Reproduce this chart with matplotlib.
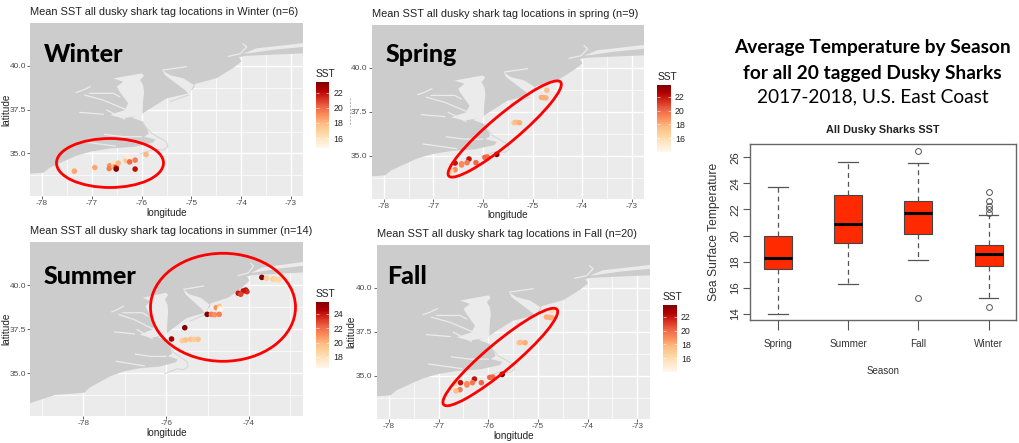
"""Seasonal dusky shark SST maps plus a boxplot of temperature by season."""

import matplotlib
matplotlib.use("Agg")
import matplotlib.pyplot as plt
from matplotlib.cm import ScalarMappable
from matplotlib.colors import Normalize
from matplotlib.patches import Ellipse

W, H = 1019, 443
LAND = "#CCCCCC"
SEA = "#EBEBEB"
RED = "#FF0000"
BOX_RED = "#FF2A00"
CMAP = "OrRd"
plt.rcParams["font.family"] = ["Liberation Sans", "DejaVu Sans"]

# coastline (lon, lat), south-west to north-east
coast_lon = [-79.4, -79.29, -78.68, -77.97, -77.85, -77.63, -77.33, -77.03, -76.63, -76.16,
             -75.89, -75.77, -75.72, -75.95, -75.85, -75.97, -76.2, -75.98, -75.77, -75.50, -75.06,
             -74.95, -74.93, -74.49, -74.16, -73.99, -74.05, -73.92, -73.35, -72.76, -72.0, -72.0, -80.0, -80.0]
coast_lat = [33.2, 33.3, 33.77, 33.90, 34.18, 34.47, 34.85, 35.10, 35.29, 35.38,
             35.55, 35.62, 35.80, 35.96, 36.15, 36.82, 37.05, 37.29, 37.67, 38.15, 38.44,
             38.75, 38.97, 39.31, 39.89, 40.27, 40.50, 40.58, 40.65, 40.72, 40.85, 43.0, 43.0, 33.2]

# bays cut out of the land
delaware_lon = [-75.58, -75.53, -75.37, -75.13, -75.05, -74.95, -75.16, -75.43]
delaware_lat = [39.75, 39.48, 39.14, 38.63, 38.38, 38.91, 39.29, 39.48]
chesapeake_lon = [-76.57, -76.00, -75.95, -76.03, -75.97, -75.95, -75.97, -75.98, -75.99, -76.37, -76.64, -76.34, -76.27, -76.44, -76.50, -76.37]
chesapeake_lat = [39.29, 39.58, 39.45, 39.20, 38.91, 38.50, 38.00, 37.30, 37.20, 37.01, 37.20, 37.48, 37.86, 38.53, 38.82, 39.10]
sound_lon = [-73.96, -73.69, -73.02, -72.76, -72.0, -72.0, -72.76, -73.35, -73.82]
sound_lat = [40.70, 41.01, 41.22, 41.31, 41.45, 41.15, 41.09, 40.93, 40.74]
# thin river mouths, the Hudson hook and the barrier island lines
rivers = [
    ([-77.31, -77.17, -77.03], [38.49, 38.63, 38.82]),
    ([-77.14, -76.77, -76.34], [38.34, 38.05, 37.54]),
    ([-77.04, -76.57, -76.44], [38.44, 38.44, 38.25]),
    ([-77.24, -76.77], [37.35, 37.24]),
    ([-76.70, -76.34], [37.48, 36.97]),
    ([-76.74, -76.37, -76.00], [36.09, 35.96, 35.96]),
    ([-77.20, -76.53], [35.68, 35.42]),
    ([-75.57, -75.10], [39.77, 39.96]),
    ([-73.96, -73.89, -74.02, -74.26], [41.26, 41.09, 40.70, 40.55]),
]
barriers = [
    ([-75.98, -75.80, -75.50, -75.47, -75.57, -75.73, -76.03], [36.72, 36.15, 35.67, 35.39, 35.20, 35.26, 34.98]),
    ([-75.43, -75.06], [37.96, 38.34]),
]

# tag locations per season
winter_lon = [-77.35, -76.94, -76.64, -76.65, -76.56, -76.56, -76.51, -76.51, -76.47, -76.31, -76.28, -76.24, -76.13, -76.13, -75.91]
winter_lat = [33.99, 34.20, 34.30, 34.14, 34.43, 34.24, 34.22, 34.11, 34.45, 34.60, 34.81, 34.52, 34.62, 34.11, 34.94]
winter_sst = [18.5, 18.5, 19, 19.5, 16, 18, 21, 23.5, 18, 17.5, 15.5, 20, 19.5, 22, 18]

spring_lon = [-74.71, -74.82, -74.78, -74.73, -75.37, -75.34, -75.26, -75.72, -75.91, -75.96, -76.14, -76.28, -76.32, -76.43, -76.43, -76.56, -76.56, -76.64]
spring_lat = [38.73, 38.33, 38.31, 38.30, 36.89, 36.91, 36.89, 35.09, 34.94, 34.92, 34.62, 34.83, 34.62, 34.56, 34.49, 34.60, 34.22, 34.15]
spring_sst = [17.5, 18, 18, 18, 17, 17.5, 18, 24, 20, 20, 20, 22, 19.5, 19, 19, 22, 19, 16.5]

summer_lon = [-73.69, -73.58, -73.42, -73.36, -73.28, -74.08, -74.05, -74.14, -74.26, -74.20, -74.79, -74.71, -74.67, -74.71,
              -75.01, -74.91, -74.83, -74.72, -75.55, -75.87, -75.61, -75.53, -75.41, -75.33, -75.23]
summer_lat = [40.45, 40.40, 40.36, 40.34, 40.32, 39.73, 39.64, 39.68, 39.55, 39.49, 38.73, 38.79, 38.69, 38.64,
              38.35, 38.35, 38.33, 38.35, 37.59, 36.95, 36.86, 36.89, 36.93, 36.93, 36.93]
summer_sst = [26, 19, 19, 18.5, 18.5, 24, 23.5, 24, 24, 23, 21, 19.5, 17, 16.5, 26, 21.5, 21, 21.5, 26, 25, 19, 19.5, 19.5, 19, 19.5]

fall_lon = [-74.72, -74.83, -74.77, -74.72, -75.38, -75.35, -75.26, -75.72, -75.91, -75.97, -76.14, -76.28, -76.32, -76.43, -76.43, -76.56, -76.68, -76.57, -76.65]
fall_lat = [38.71, 38.35, 38.33, 38.31, 36.89, 36.91, 36.89, 35.09, 34.94, 34.92, 34.62, 34.83, 34.62, 34.56, 34.49, 34.62, 34.58, 34.22, 34.15]
fall_sst = [16, 18, 18, 18, 17, 17.5, 18, 24, 20, 20, 20, 22, 19.5, 19, 19, 22, 16.5, 19.5, 17.5]

# boxplot
seasons = ["Spring", "Summer", "Fall", "Winter"]
whisker_low = [14.0, 16.3, 18.1, 15.2]
q1 = [17.45, 19.45, 20.1, 17.65]
median = [18.25, 20.9, 21.7, 18.55]
q3 = [20.0, 23.1, 22.65, 19.3]
whisker_high = [23.75, 25.65, 25.55, 21.55]
outliers = [[], [], [15.2, 26.5], [14.55, 21.7, 22.0, 22.3, 22.65, 23.35]]

PANELS = [
    dict(name="Winter", title="Mean SST all dusky shark tag locations in Winter (n=6)",
         lon=winter_lon, lat=winter_lat, sst=winter_sst,
         box=(30, 23, 303, 196), lon0=(-78, 42), lon1=(-73, 291), lat0=(35, 153.5), lat1=(40, 66),
         cbar=(316, 82, 329, 148), vmin=14.7, vmax=23.4, cticks=[16, 18, 20, 22],
         xticks=[-78, -77, -76, -75, -74, -73], ylabel_x=6, label_xy=(44, 62)),
    dict(name="Spring", title="Mean SST all dusky shark tag locations in spring (n=9)",
         lon=spring_lon, lat=spring_lat, sst=spring_sst,
         box=(371.5, 25, 644, 198.5), lon0=(-78, 383.7), lon1=(-73, 631.7), lat0=(35, 156), lat1=(40, 68),
         cbar=(657.3, 84.7, 670.7, 151.7), vmin=14.1, vmax=23.7, cticks=[16, 18, 20, 22],
         xticks=[-78, -77, -76, -75, -74, -73], ylabel_x=None, label_xy=(386, 62)),
    dict(name="Summer", title="Mean SST all dusky shark tag locations in summer (n=14)",
         lon=summer_lon, lat=summer_lat, sst=summer_sst,
         box=(30, 242, 303, 416), lon0=(-78, 83.3), lon1=(-74, 249), lat0=(35, 373.3), lat1=(40, 285.3),
         cbar=(316, 301.7, 329, 368.3), vmin=16.4, vmax=25.7, cticks=[18, 20, 22, 24],
         xticks=[-78, -76, -74], ylabel_x=6, label_xy=(44, 284)),
    dict(name="Fall", title="Mean SST all dusky shark tag locations in Fall (n=20)",
         lon=fall_lon, lat=fall_lat, sst=fall_sst,
         box=(376.7, 244.7, 650, 418.7), lon0=(-78, 389), lon1=(-73, 637.3), lat0=(35, 376), lat1=(40, 288),
         cbar=(663, 304.7, 676.7, 371.7), vmin=14.1, vmax=23.7, cticks=[16, 18, 20, 22],
         xticks=[-78, -77, -76, -75, -74, -73], ylabel_x=351.5, label_xy=(386.7, 284)),
]

# red hand-drawn rings: centre x, y, width, height, screen angle in pixels
RINGS = [(110, 163, 107, 49, 0), (504.7, 129, 146, 28, 40), (223, 307.3, 145, 108, 0), (500.3, 357, 148, 28, 40)]


def px_axes(fig, x0, y0, x1, y1, **kw):
    """Axes placed by pixel box, y measured from the top of the image."""
    return fig.add_axes([x0 / W, 1 - y1 / H, (x1 - x0) / W, (y1 - y0) / H], **kw)


def draw_map(fig, p):
    x0, y0, x1, y1 = p["box"]
    ax = px_axes(fig, x0, y0, x1, y1)
    ax.set_facecolor(SEA)
    px_per_lon = (p["lon1"][1] - p["lon0"][1]) / (p["lon1"][0] - p["lon0"][0])
    px_per_lat = (p["lat0"][1] - p["lat1"][1]) / (p["lat1"][0] - p["lat0"][0])

    step = p["xticks"][1] - p["xticks"][0]
    ax.set_xticks(p["xticks"])
    ax.set_xticklabels([f"-{abs(t)}" for t in p["xticks"]])
    ax.set_xticks([t + step / 2 for t in range(-80, -71, step)], minor=True)
    ax.set_yticks([35, 37.5, 40])
    ax.set_yticklabels(["35.0", "37.5", "40.0"])
    ax.set_yticks([33.75, 36.25, 38.75, 41.25], minor=True)
    ax.grid(which="major", color="white", lw=1.0)
    ax.grid(which="minor", color="white", lw=0.5)
    ax.set_axisbelow(True)
    ax.tick_params(which="major", labelsize=6, labelcolor="#4D4D4D", color="#4D4D4D", length=2, width=0.6, pad=1)
    ax.tick_params(which="minor", length=0)
    for s in ax.spines.values():
        s.set_visible(False)

    ax.fill(coast_lon, coast_lat, color=LAND, lw=0, zorder=1.5)
    for lons, lats in [(delaware_lon, delaware_lat), (chesapeake_lon, chesapeake_lat), (sound_lon, sound_lat)]:
        ax.fill(lons, lats, color=SEA, lw=0, zorder=1.6)
    for lons, lats in rivers:
        ax.plot(lons, lats, color=SEA, lw=0.9, zorder=1.6)
    for lons, lats in barriers:
        ax.plot(lons, lats, color="#D4D4D4", lw=0.7, zorder=1.6)

    ax.scatter(p["lon"], p["lat"], c=p["sst"], cmap=CMAP, vmin=p["vmin"], vmax=p["vmax"], s=16, lw=0, zorder=3)

    # limits last, the minor ticks above run past the map edge
    ax.set_xlim(p["lon0"][0] - (p["lon0"][1] - x0) / px_per_lon, p["lon0"][0] + (x1 - p["lon0"][1]) / px_per_lon)
    ax.set_ylim(p["lat0"][0] - (y1 - p["lat0"][1]) / px_per_lat, p["lat0"][0] + (p["lat0"][1] - y0) / px_per_lat)

    fig.text((x0 + x1) / 2 / W, 1 - (y1 + 17) / H, "longitude", ha="center", va="center", fontsize=7.2, color="#222222")
    if p["ylabel_x"] is not None:
        fig.text(p["ylabel_x"] / W, 1 - (y0 + y1) / 2 / H, "latitude", rotation=90, ha="center", va="center", fontsize=7.2, color="#222222")
    fig.text(x0 / W, 1 - (y0 - 11) / H, p["title"], ha="left", va="center", fontsize=7.9, color="#222222")

    # season name across the map
    fig.text(p["label_xy"][0] / W, 1 - p["label_xy"][1] / H, p["name"], family="Lato", weight="black",
             fontsize=18, color="black", ha="left", va="baseline")

    # colour bar
    cx0, cy0, cx1, cy1 = p["cbar"]
    cax = px_axes(fig, cx0, cy0, cx1, cy1)
    cb = fig.colorbar(ScalarMappable(Normalize(p["vmin"], p["vmax"]), CMAP), cax=cax, ticks=p["cticks"])
    cb.outline.set_visible(False)
    cax.tick_params(length=0, labelsize=6.3, pad=3, labelcolor="#222222")
    cax.hlines(p["cticks"], 0, 0.2, color="white", lw=0.4, transform=cax.get_yaxis_transform())
    cax.hlines(p["cticks"], 0.8, 1, color="white", lw=0.4, transform=cax.get_yaxis_transform())
    fig.text(cx0 / W, 1 - (cy0 - 8) / H, "SST", ha="left", va="center", fontsize=7.4, color="#222222")


def draw_box(fig):
    ax = px_axes(fig, 750, 143.7, 1016, 320)
    stats = [
        dict(label=s, whislo=lo, q1=a, med=m, q3=b, whishi=hi, fliers=f)
        for s, lo, a, m, b, hi, f in zip(seasons, whisker_low, q1, median, q3, whisker_high, outliers)
    ]
    ax.bxp(
        stats, positions=[1, 2, 3, 4], widths=0.4, patch_artist=True,
        boxprops=dict(facecolor=BOX_RED, edgecolor="#444444", lw=0.8),
        medianprops=dict(color="black", lw=2.2, solid_capstyle="butt"),
        whiskerprops=dict(color="#555555", lw=0.9, ls=(0, (4, 3))),
        capprops=dict(color="#555555", lw=0.9),
        flierprops=dict(marker="o", mfc="none", mec="#555555", ms=4.2, mew=0.7),
        capwidths=0.28,
    )
    ax.set_xlim(0.605, 4.39)
    ax.set_ylim(13.52, 27.04)
    ax.set_xticks([1, 2, 3, 4])
    ax.set_xticklabels(seasons, fontsize=7.2)
    ax.set_yticks(range(14, 27, 2))
    ax.tick_params(axis="y", labelrotation=90, labelsize=8.2, length=5, width=0.8, color="#555555", labelcolor="#333333", pad=2)
    ax.tick_params(axis="x", length=7, width=0.8, color="#555555", labelcolor="#333333", pad=7)
    for lab in ax.get_yticklabels():
        lab.set_va("center")
    for s in ax.spines.values():
        s.set_color("#666666")
        s.set_linewidth(1.0)
    fig.text(883 / W, 1 - 130 / H, "All Dusky Sharks SST", ha="center", va="center", weight="bold",
             fontsize=7.8, color="#222222")
    fig.text(883 / W, 1 - 371.5 / H, "Season", ha="center", va="center", fontsize=7, color="#333333")
    fig.text(713.5 / W, 1 - 232 / H, "Sea Surface Temperature", rotation=90, ha="center", va="center", fontsize=8.7, color="#333333")


def main():
    fig = plt.figure(figsize=(W / 100, H / 100), dpi=100, facecolor="white")
    for p in PANELS:
        draw_map(fig, p)
    draw_box(fig)

    fig.text(872.5 / W, 1 - 48 / H, "Average Temperature by Season", family="Lato", weight="bold",
             fontsize=13.8, ha="center", va="center", color="black")
    fig.text(872.5 / W, 1 - 73 / H, "for all 20 tagged Dusky Sharks", family="Lato", weight="bold",
             fontsize=13.8, ha="center", va="center", color="black")
    fig.text(872.5 / W, 1 - 97 / H, "2017-2018, U.S. East Coast", family="Lato",
             fontsize=13.8, ha="center", va="center", color="black")

    # overlay in image pixels for the rings and the stray dashed mark left of the spring map
    over = fig.add_axes([0, 0, 1, 1], facecolor="none")
    over.set_xlim(0, W)
    over.set_ylim(H, 0)
    over.axis("off")
    for cx, cy, w, h, ang in RINGS:
        over.add_patch(Ellipse((cx, cy), w, h, angle=-ang, fill=False, ec=RED, lw=2.0))
    over.plot([350.5, 350.5], [98, 126], color="#999999", lw=0.5, ls=(0, (3, 2)))

    fig.savefig("out.png", dpi=100)
    plt.close(fig)


if __name__ == "__main__":
    main()
